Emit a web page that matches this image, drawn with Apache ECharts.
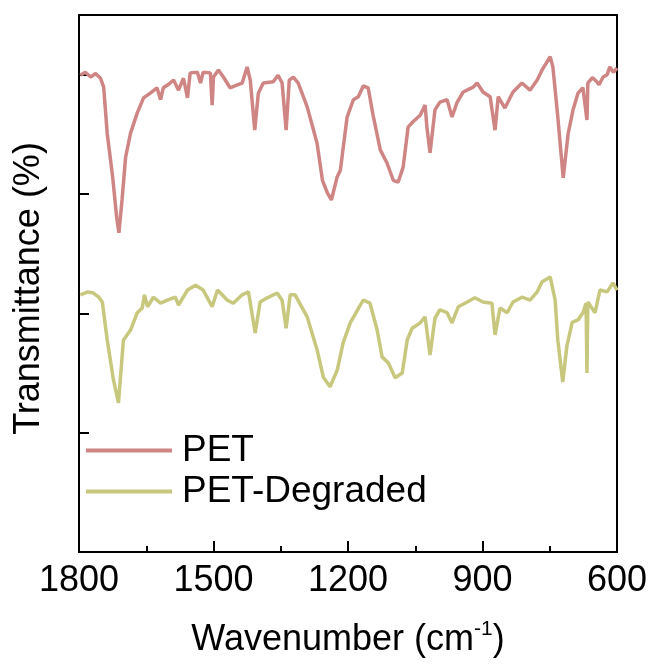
<!DOCTYPE html>
<html>
<head>
<meta charset="utf-8">
<script src="https://cdn.jsdelivr.net/npm/echarts@6/dist/echarts.min.js"></script>
<style>
    html, body {margin: 0; padding: 0; background: #fff;}
    #chart {width: 652px; height: 666px;}
</style>
</head>
<body>
<div id="chart"></div>
<script>
const seriesNames = ['PET', 'PET-Degraded'];

// PET spectrum (wavenumber cm-1, transmittance a.u.)
const petWavenumber = [1797, 1786, 1774, 1763, 1752, 1745, 1737, 1725, 1716, 1711, 1704, 1696, 1685, 1670, 1656,
    1641, 1626, 1618, 1612, 1600, 1589, 1578, 1567, 1558, 1552, 1536, 1529, 1523, 1507, 1503, 1500, 1489, 1478,
    1463, 1447, 1436, 1425, 1418, 1408, 1400, 1389, 1367, 1356, 1347, 1338, 1331, 1322, 1311, 1291, 1269, 1257,
    1246, 1237, 1224, 1217, 1202, 1188, 1177, 1166, 1155, 1144, 1128, 1113, 1099, 1088, 1077, 1066, 1055, 1039,
    1028, 1024, 1017, 1006, 995, 979, 968, 957, 943, 921, 912, 899, 883, 872, 865, 850, 832, 812, 794, 778, 767,
    749, 743, 732, 720, 709, 698, 687, 676, 667, 665, 655, 645, 640, 631, 622, 616, 608, 600];
const petTransmittance = [79.9, 80.4, 79.6, 80.2, 79.4, 77.9, 70.1, 62.9, 56.1, 53.5, 59.0, 66.2, 70.2, 73.6, 76.1,
    76.9, 77.8, 75.8, 77.8, 78.4, 79.1, 77.4, 79.4, 76.1, 80.3, 80.4, 78.6, 80.4, 80.3, 74.9, 79.6, 80.8, 79.6,
    77.8, 78.3, 78.6, 81.3, 79.1, 70.7, 76.9, 78.6, 78.8, 79.9, 78.6, 70.7, 79.1, 79.6, 78.6, 74.6, 68.5, 62.3,
    60.2, 59.0, 62.9, 64.0, 72.9, 75.8, 76.3, 78.1, 77.8, 73.2, 67.4, 65.2, 62.3, 62.0, 64.5, 71.2, 72.1, 73.2,
    74.9, 71.2, 66.9, 74.1, 75.4, 75.8, 72.9, 75.3, 77.1, 77.9, 78.6, 77.1, 76.3, 70.7, 76.3, 74.4, 77.1, 78.6,
    77.4, 79.1, 80.8, 83.0, 81.3, 72.9, 62.7, 70.1, 74.1, 76.9, 77.8, 72.4, 78.6, 79.5, 78.8, 78.3, 79.6, 80.0,
    81.3, 80.4, 81.1];

// PET-Degraded spectrum
const degradedWavenumber = [1797, 1780, 1768, 1757, 1748, 1737, 1723, 1712, 1701, 1685, 1670, 1659, 1654, 1647,
    1634, 1618, 1603, 1585, 1578, 1558, 1540, 1523, 1503, 1491, 1469, 1456, 1436, 1422, 1407, 1396, 1380, 1358,
    1347, 1338, 1329, 1318, 1291, 1269, 1255, 1240, 1224, 1211, 1195, 1177, 1166, 1151, 1135, 1124, 1110, 1095,
    1079, 1068, 1057, 1039, 1028, 1017, 1006, 995, 979, 968, 954, 934, 917, 899, 879, 872, 861, 845, 832, 812,
    794, 778, 767, 749, 738, 732, 721, 712, 700, 687, 676, 669, 667, 665, 649, 638, 622, 609, 600];
const degradedTransmittance = [43.1, 43.6, 43.4, 42.8, 41.9, 35.5, 28.8, 25.0, 35.5, 37.2, 40.1, 40.9, 43.1, 41.1,
    42.7, 41.7, 42.2, 42.7, 41.4, 43.9, 44.7, 43.9, 41.1, 43.9, 42.2, 41.7, 43.1, 43.6, 36.7, 41.9, 42.6, 43.4,
    42.2, 37.5, 43.1, 43.1, 39.4, 33.9, 29.3, 27.7, 30.5, 35.0, 38.4, 40.8, 42.2, 41.7, 37.2, 32.7, 31.7, 29.2,
    30.0, 35.5, 37.5, 38.4, 39.4, 33.0, 39.2, 40.6, 40.1, 38.4, 41.1, 41.9, 42.6, 41.9, 41.7, 36.4, 40.9, 40.1,
    41.9, 42.7, 42.2, 43.6, 45.3, 46.1, 42.2, 35.5, 28.5, 34.4, 38.5, 38.9, 40.1, 41.7, 30.0, 41.9, 40.1, 43.9,
    43.6, 45.1, 43.9];

const colors = ['#cf8584', '#c8c77e'];
const font = 'Liberation Sans, Arial, sans-serif';

function toPairs(xs, ys) {
    return xs.map((x, i) => [x, ys[i]]);
}

let chart = echarts.init(document.getElementById('chart'));
let option = {
    animation: false,
    backgroundColor: '#fff',
    color: colors,
    grid: {
        left: 79, right: 35, top: 15, bottom: 114,
        show: true, borderColor: '#000', borderWidth: 2
    },
    legend: {
        orient: 'vertical',
        left: 81, top: 427,
        icon: 'rect',
        itemWidth: 86, itemHeight: 4,
        itemGap: 4,
        data: seriesNames,
        textStyle: {fontFamily: font, fontSize: 37, color: '#000', lineHeight: 36, padding: [0, 0, 0, 5]}
    },
    xAxis: {
        type: 'value',
        inverse: true,
        min: 600, max: 1800, interval: 300,
        axisLine: {show: false},
        axisTick: {inside: true, length: 11, lineStyle: {color: '#000', width: 2}},
        minorTick: {show: true, splitNumber: 2, length: 6, lineStyle: {color: '#000', width: 2}},
        splitLine: {show: false},
        axisLabel: {fontFamily: font, fontSize: 36, color: '#000', margin: 11, formatter: v => String(v)},
        name: 'Wavenumber (cm{sup|-1})',
        nameLocation: 'middle',
        nameGap: 67,
        nameTextStyle: {
            fontFamily: font, fontSize: 36, color: '#000', lineHeight: 42,
            rich: {sup: {fontFamily: font, fontSize: 21, color: '#000', verticalAlign: 'top', lineHeight: 23}}
        }
    },
    yAxis: {
        type: 'value',
        min: 0, max: 90, interval: 20,
        axisLine: {show: false},
        axisTick: {inside: true, length: 10, lineStyle: {color: '#000', width: 2}},
        axisLabel: {show: false},
        splitLine: {show: false},
        name: 'Transmittance (%)',
        nameLocation: 'middle',
        nameGap: 32,
        nameTextStyle: {fontFamily: font, fontSize: 36, color: '#000', padding: [0, 10, 0, 0]}
    },
    series: [
        {
            name: seriesNames[0], type: 'line', showSymbol: false,
            lineStyle: {width: 3.5}, data: toPairs(petWavenumber, petTransmittance)
        },
        {
            name: seriesNames[1], type: 'line', showSymbol: false,
            lineStyle: {width: 3.5}, data: toPairs(degradedWavenumber, degradedTransmittance)
        }
    ]
};
chart.setOption(option);
</script>
</body>
</html>
